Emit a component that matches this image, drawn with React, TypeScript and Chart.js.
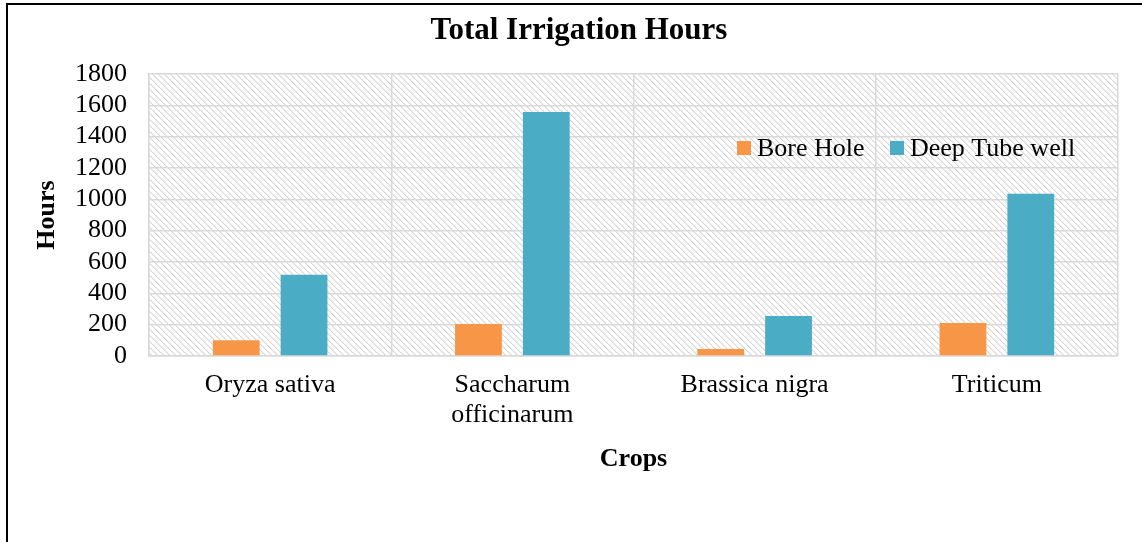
import React, { useEffect, useRef } from "react";
import { Chart, registerables } from "chart.js";

Chart.register(...registerables);

const categories: (string | string[])[] = [
  "Oryza sativa",
  ["Saccharum", "officinarum"],
  "Brassica nigra",
  "Triticum",
];
const seriesNames = ["Bore Hole", "Deep Tube well"];
const boreHole = [100, 205, 45, 210];
const deepTubeWell = [518, 1558, 256, 1035];
const yMin = 0;
const yMax = 1800;
const yStep = 200;
const chartTitle = "Total Irrigation Hours";
const xTitle = "Crops";
const yTitle = "Hours";

const ORANGE = "#F79646";
const TEAL = "#4BACC6";
const FONT = "'Liberation Serif', 'Times New Roman', serif";

function makePattern(ctx: CanvasRenderingContext2D) {
  const s = 6;
  const c = document.createElement("canvas");
  c.width = s;
  c.height = s;
  const g = c.getContext("2d")!;
  g.fillStyle = "#ffffff";
  g.fillRect(0, 0, s, s);
  for (let i = 0; i < s; i++) {
    g.fillStyle = "#d6d6d6";
    g.fillRect(i, i, 1, 1);
    g.fillStyle = "#eeeeee";
    g.fillRect((i + 1) % s, i, 1, 1);
  }
  return ctx.createPattern(c, "repeat")!;
}

const decorPlugin = {
  id: "decor",
  beforeDraw(chart: any) {
    const { ctx, chartArea } = chart;
    ctx.save();
    ctx.fillStyle = makePattern(ctx);
    ctx.fillRect(
      chartArea.left,
      chartArea.top,
      chartArea.right - chartArea.left,
      chartArea.bottom - chartArea.top
    );
    ctx.restore();
  },
  afterDraw(chart: any) {
    const { ctx } = chart;
    ctx.save();
    ctx.fillStyle = "#000";
    ctx.font = `bold 31px ${FONT}`;
    ctx.textAlign = "center";
    ctx.textBaseline = "alphabetic";
    ctx.fillText(chartTitle, 579, 39);
    ctx.font = `26px ${FONT}`;
    ctx.textAlign = "left";
    const items = [
      { x: 737, color: ORANGE, label: seriesNames[0] },
      { x: 890, color: TEAL, label: seriesNames[1] },
    ];
    for (const it of items) {
      ctx.fillStyle = it.color;
      ctx.fillRect(it.x, 141, 14, 14);
      ctx.fillStyle = "#000";
      ctx.fillText(it.label, it.x + 20, 156);
    }
    ctx.restore();
  },
};

export default function App() {
  const ref = useRef<HTMLCanvasElement>(null);
  useEffect(() => {
    const chart = new Chart(ref.current!, {
      type: "bar",
      data: {
        labels: categories,
        datasets: [
          {
            label: seriesNames[0],
            data: boreHole,
            backgroundColor: ORANGE,
            categoryPercentage: 0.56,
            barPercentage: 0.69,
          },
          {
            label: seriesNames[1],
            data: deepTubeWell,
            backgroundColor: TEAL,
            categoryPercentage: 0.56,
            barPercentage: 0.69,
          },
        ],
      },
      options: {
        animation: false,
        responsive: true,
        maintainAspectRatio: false,
        layout: { padding: { left: 30, right: 24, top: 74, bottom: 61 } },
        plugins: {
          legend: { display: false },
          title: { display: false },
          tooltip: { enabled: false },
        },
        scales: {
          x: {
            offset: true,
            grid: {
              offset: true,
              color: "#d9d9d9",
              lineWidth: 1.5,
              drawTicks: false,
            },
            border: { display: true, color: "#d9d9d9", width: 1.5 },
            ticks: {
              color: "#000",
              font: { family: FONT, size: 26, lineHeight: 1.15 },
              padding: 14,
              maxRotation: 0,
              autoSkip: false,
            },
            title: {
              display: true,
              text: xTitle,
              color: "#000",
              font: { family: FONT, size: 26, weight: "bold", lineHeight: 1.2 },
              padding: { top: 0, bottom: 6 },
            },
            afterFit(scale: any) {
              scale.height = 125;
            },
          },
          y: {
            min: yMin,
            max: yMax,
            grid: { color: "#d9d9d9", lineWidth: 1.5, drawTicks: false },
            border: { display: true, color: "#d9d9d9", width: 1.5 },
            ticks: {
              stepSize: yStep,
              autoSkip: false,
              color: "#000",
              font: { family: FONT, size: 26, lineHeight: 1 },
              padding: 22,
              callback: (v: any) => String(v),
            },
            title: {
              display: true,
              text: yTitle,
              color: "#000",
              font: { family: FONT, size: 26, weight: "bold", lineHeight: 1.2 },
              padding: { top: 2, bottom: 0 },
            },
            afterFit(scale: any) {
              scale.width = 119;
            },
          },
        },
      },
      plugins: [decorPlugin],
    } as any);
    return () => chart.destroy();
  }, []);

  return (
    <div
      style={{
        position: "fixed",
        left: 0,
        top: 0,
        width: 1142,
        height: 542,
        overflow: "hidden",
        background: "#fff",
      }}
    >
      <div
        style={{
          position: "absolute",
          left: 6,
          top: 3,
          width: 1200,
          height: 600,
          border: "2px solid #000",
        }}
      />
      <div style={{ position: "absolute", left: 0, top: 0, width: 1142, height: 542 }}>
        <canvas ref={ref} />
      </div>
    </div>
  );
}
